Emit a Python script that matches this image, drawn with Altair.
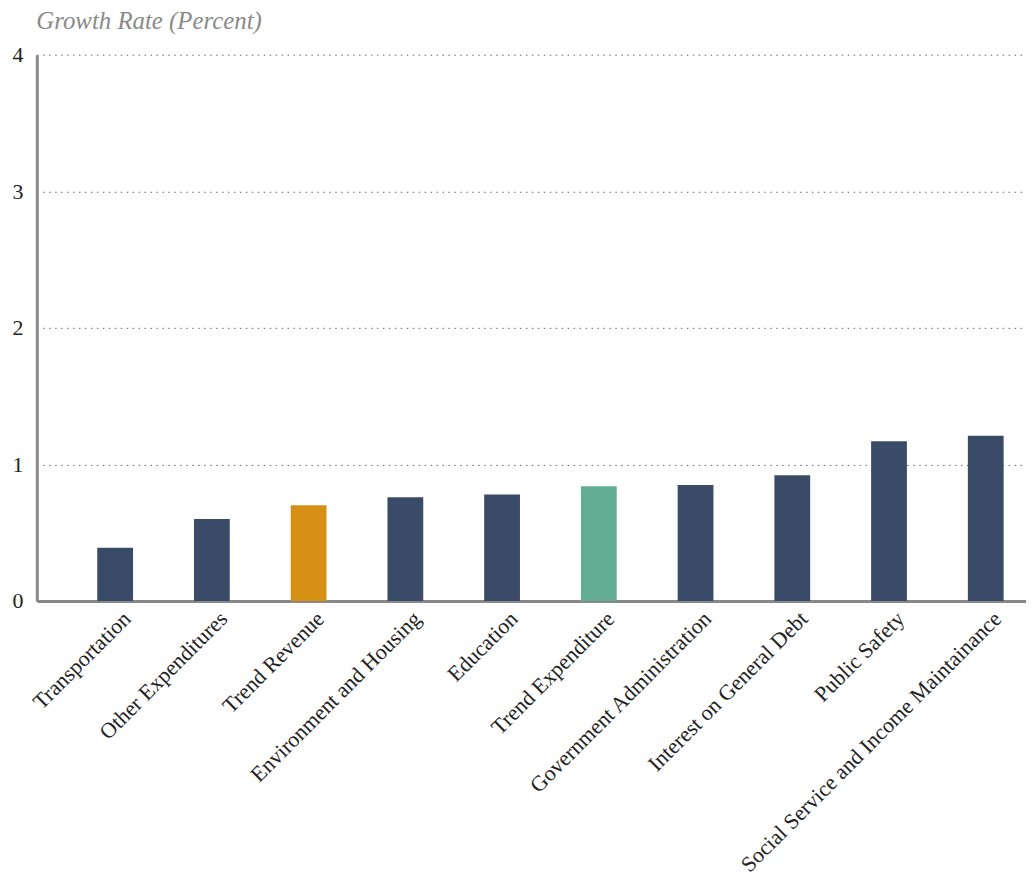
import altair as alt
import pandas as pd

categories = [
    "Transportation",
    "Other Expenditures",
    "Trend Revenue",
    "Environment and Housing",
    "Education",
    "Trend Expenditure",
    "Government Administration",
    "Interest on General Debt",
    "Public Safety",
    "Social Service and Income Maintainance",
]
values = [0.39, 0.60, 0.70, 0.76, 0.78, 0.84, 0.85, 0.92, 1.17, 1.21]
groups = ["Item", "Item", "Revenue", "Item", "Item", "Expenditure", "Item", "Item", "Item", "Item"]
y_ticks = [0, 1, 2, 3, 4]

df = pd.DataFrame({"category": categories, "value": values, "group": groups})

FONT = "Liberation Serif"

bars = alt.Chart(df).mark_bar().encode(
    x=alt.X(
        "category:N",
        sort=categories,
        scale=alt.Scale(paddingInner=0.63, paddingOuter=0.428, align=0.73),
        axis=alt.Axis(
            title=None,
            labelAngle=-45,
            labelAlign="right",
            labelBaseline="middle",
            labelFont=FONT,
            labelFontSize=22,
            labelColor="#222222",
            labelPadding=14,
            labelOffset=12,
            labelLimit=0,
            ticks=False,
            domainColor="#888888",
            domainWidth=3,
            grid=False,
        ),
    ),
    y=alt.Y(
        "value:Q",
        scale=alt.Scale(domain=[0, 4], nice=False),
        axis=alt.Axis(
            title="Growth Rate (Percent)",
            titleAngle=0,
            titleAlign="left",
            titleBaseline="alphabetic",
            titleX=-1,
            titleY=-26,
            titleFont=FONT,
            titleFontSize=25,
            titleFontStyle="italic",
            titleFontWeight="normal",
            titleColor="#8a8a8a",
            values=y_ticks,
            labelFont=FONT,
            labelFontSize=22,
            labelColor="#222222",
            labelPadding=14,
            ticks=False,
            domainColor="#888888",
            domainWidth=3,
            grid=True,
            gridColor="#666666",
            gridDash=[1.5, 4.5],
            gridWidth=1,
        ),
    ),
    color=alt.Color(
        "group:N",
        scale=alt.Scale(
            domain=["Item", "Revenue", "Expenditure"],
            range=["#3a4b67", "#d69114", "#62ad93"],
        ),
        legend=None,
    ),
).properties(
    width=996,
    height=550,
    autosize=alt.AutoSizeParams(type="none"),
    padding={"left": 29, "top": 44, "right": 0, "bottom": 290},
).configure_view(stroke=None)

chart = bars
chart.save("out.html", embed_options={"renderer": "svg", "actions": False})
